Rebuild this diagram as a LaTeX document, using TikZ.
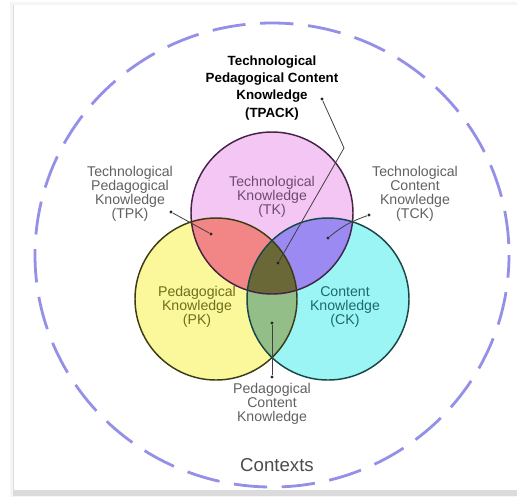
\documentclass[tikz,border=0pt]{standalone}
\usepackage{fontspec}
\setmainfont{Liberation Sans}
\usetikzlibrary{positioning,calc}

\definecolor{tkfill}{HTML}{F4C6F4}
\definecolor{pkfill}{HTML}{FAF89A}
\definecolor{ckfill}{HTML}{9BF5F5}
\definecolor{tpkfill}{HTML}{F28585}
\definecolor{tckfill}{HTML}{9A8AF2}
\definecolor{pckfill}{HTML}{93BE88}
\definecolor{allfill}{HTML}{6A6836}
\definecolor{ctxblue}{HTML}{9490E8}

\begin{document}
\begin{tikzpicture}[x=0.75pt,y=-0.75pt,
		lbl/.style={align=center,inner sep=0pt,text=black!62,
			font=\fontsize{10.6}{10.6}\selectfont},
		ring/.style={line width=1.1pt},
		dot/.style={circle,fill=black!85,inner sep=0pt,minimum size=2.6pt},
		lead/.style={black!75,line width=0.6pt}
	]
	\useasboundingbox (0,0) rectangle (517,497);
	% frame
	\fill[black!4] (10,2) rectangle (530,497);
	\fill[black!14] (13,5) rectangle (530,496);
	\fill[white] (14,5) rectangle (530,490);
	% contexts
	\draw[ctxblue,line width=2.1pt,dash pattern=on 25pt off 11pt,dash phase=8pt]
		(272,255) ellipse [x radius=237,y radius=232];
	% circles
	\coordinate (tkc) at (272,213);
	\coordinate (pkc) at (216,299);
	\coordinate (ckc) at (328,299);
	\fill[tkfill] (tkc) circle [radius=81];
	\fill[pkfill] (pkc) circle [radius=81];
	\fill[ckfill] (ckc) circle [radius=81];
	\begin{scope}
		\clip (tkc) circle [radius=81];
		\fill[tpkfill] (pkc) circle [radius=81];
		\fill[tckfill] (ckc) circle [radius=81];
	\end{scope}
	\begin{scope}
		\clip (pkc) circle [radius=81];
		\fill[pckfill] (ckc) circle [radius=81];
		\clip (ckc) circle [radius=81];
		\fill[allfill] (tkc) circle [radius=81];
	\end{scope}
	\draw[ring,draw={rgb,255:red,70;green,35;blue,70}] (tkc) circle [radius=81];
	\draw[ring,draw={rgb,255:red,60;green,60;blue,20}] (pkc) circle [radius=81];
	\draw[ring,draw={rgb,255:red,25;green,70;blue,70}] (ckc) circle [radius=81];
	% labels
	\node[lbl,text={rgb,255:red,110;green,75;blue,110}] (tk) at (272,197)
		{Technological\\Knowledge\\(TK)};
	\node[lbl,text={rgb,255:red,110;green,110;blue,30}] (pk) at (197,307)
		{Pedagogical\\Knowledge\\(PK)};
	\node[lbl,text={rgb,255:red,30;green,105;blue,105}] (ck) at (345,307)
		{Content\\Knowledge\\(CK)};
	\node[lbl] (tpk) at (130,194)
		{Technological\\Pedagogical\\Knowledge\\(TPK)};
	\node[lbl] (tck) at (415,194)
		{Technological\\Content\\Knowledge\\(TCK)};
	\node[lbl] (pck) at (272,404)
		{Pedagogical\\Content\\Knowledge};
	\node[lbl,text=black,font=\bfseries\fontsize{10}{12.8}\selectfont] (tpack) at (272,88)
		{Technological\\Pedagogical Content\\Knowledge\\(TPACK)};
	\node[lbl,text=black!70,font=\fontsize{14}{16}\selectfont] (ctx) at (277,465) {Contexts};
	% leaders
	\node[dot] (tpackend) at (322,99) {};
	\node[dot] (tpackin) at (278,263) {};
	\node[dot] (tpkend) at (171,212) {};
	\node[dot] (tpkin) at (211,234) {};
	\node[dot] (tckend) at (369,215) {};
	\node[dot] (tckin) at (328,238) {};
	\node[dot] (pckend) at (272,377) {};
	\node[dot] (pckin) at (272,323) {};
	\coordinate (bend) at (344,148);
	\draw[lead] (tpackend) -- (bend) -- (tpackin);
	\draw[lead] (tpkend) -- (tpkin);
	\draw[lead] (tckend) to[out=200,in=40] (tckin);
	\draw[lead] (pckend) -- (pckin);
\end{tikzpicture}
\end{document}
